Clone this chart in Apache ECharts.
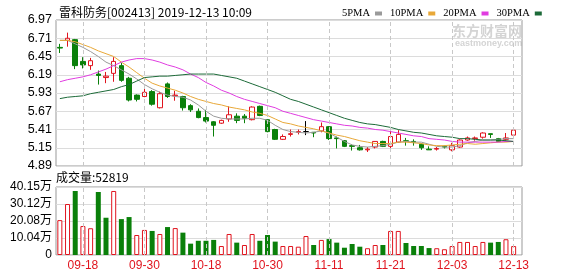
<!DOCTYPE html>
<html><head><meta charset="utf-8">
<script src="https://cdn.jsdelivr.net/npm/echarts@6/dist/echarts.min.js"></script>
<style>html,body{margin:0;padding:0;background:#fff}#c{width:578px;height:276px}</style>
</head><body><div id="c"></div>
<script>
const dates = ['09-16','09-17','09-18','09-19','09-20','09-23','09-24','09-25','09-26','09-27',
'09-30','10-08','10-09','10-10','10-11','10-14','10-15','10-16','10-17','10-18',
'10-21','10-22','10-23','10-24','10-25','10-28','10-29','10-30','10-31','11-01',
'11-04','11-05','11-06','11-07','11-08','11-11','11-12','11-13','11-14','11-15',
'11-18','11-19','11-20','11-21','11-22','11-25','11-26','11-27','11-28','11-29',
'12-02','12-03','12-04','12-05','12-06','12-09','12-10','12-11','12-12','12-13'];
const open = [6.58,6.68,6.69,6.38,6.32,6.20,6.15,6.21,6.32,6.14, 5.90,5.88,5.95,5.72,6.06,5.89,5.88,5.75,5.67,5.58,
5.52,5.50,5.56,5.60,5.60,5.55,5.74,5.55,5.41,5.27, 5.34,5.37,5.38,5.37,5.39,5.45,5.29,5.25,5.18,5.15,
5.12,5.16,5.24,5.17,5.23,5.25,5.24,5.20,5.13,5.13, 5.17,5.12,5.16,5.26,5.28,5.30,5.35,5.28,5.27,5.33];
const close = [6.57,6.71,6.32,6.33,6.39,6.18,6.17,6.38,6.11,5.83, 5.84,5.94,5.77,5.92,5.88,5.90,5.72,5.69,5.58,5.53,
5.47,5.54,5.62,5.54,5.57,5.73,5.61,5.38,5.27,5.31, 5.35,5.38,5.38,5.36,5.45,5.28,5.28,5.17,5.17,5.12,
5.13,5.24,5.17,5.31,5.34,5.24,5.23,5.15,5.12,5.14, 5.16,5.18,5.26,5.29,5.29,5.36,5.34,5.24,5.29,5.40];
const low = [6.50,6.59,6.27,6.28,6.26,6.05,6.07,6.09,6.09,5.81, 5.81,5.87,5.75,5.71,5.86,5.82,5.68,5.66,5.57,5.51,
5.31,5.49,5.52,5.50,5.50,5.54,5.60,5.37,5.26,5.26, 5.31,5.34,5.33,5.30,5.37,5.26,5.14,5.16,5.11,5.11,
5.09,5.14,5.16,5.11,5.22,5.18,5.18,5.12,5.12,5.11, 5.14,5.10,5.15,5.25,5.25,5.28,5.29,5.23,5.25,5.32];
const high = [6.63,6.79,6.70,6.44,6.43,6.25,6.23,6.44,6.36,6.16, 5.91,6.03,5.97,5.95,6.08,5.96,5.89,5.77,5.71,5.69,
5.53,5.55,5.74,5.64,5.63,5.74,5.75,5.56,5.42,5.34, 5.41,5.41,5.53,5.37,5.51,5.46,5.31,5.26,5.20,5.19,
5.16,5.24,5.25,5.41,5.40,5.29,5.27,5.21,5.17,5.16, 5.18,5.22,5.27,5.31,5.31,5.37,5.35,5.29,5.36,5.41];
const ma5 = [6.68,6.68,6.63,6.58,6.52,6.45,6.37,6.32,6.26,6.20, 6.13,6.05,5.99,5.94,5.90,5.88,5.87,5.83,5.76,5.67,
5.60,5.57,5.56,5.56,5.56,5.57,5.57,5.54,5.47,5.41, 5.38,5.37,5.36,5.37,5.39,5.36,5.30,5.24,5.19,5.17,
5.16,5.17,5.18,5.20,5.23,5.24,5.23,5.23,5.20,5.17, 5.16,5.16,5.18,5.22,5.24,5.26,5.26,5.27,5.28,5.28];
const ma10 = [6.68,6.68,6.66,6.62,6.58,6.53,6.49,6.45,6.37,6.30, 6.22,6.14,6.07,6.03,6.00,5.97,5.93,5.88,5.84,5.81,
5.78,5.76,5.73,5.71,5.69,5.66,5.64,5.61,5.56,5.51, 5.49,5.46,5.44,5.42,5.39,5.36,5.33,5.31,5.28,5.25,
5.23,5.21,5.21,5.21,5.23,5.23,5.22,5.21,5.19,5.18, 5.18,5.19,5.20,5.21,5.20,5.21,5.22,5.23,5.23,5.24];
const ma20 = [6.09,6.12,6.14,6.16,6.19,6.23,6.27,6.32,6.37,6.40, 6.42,6.42,6.40,6.37,6.33,6.30,6.26,6.20,6.15,6.08,
6.03,5.97,5.93,5.88,5.84,5.81,5.78,5.75,5.72,5.67, 5.64,5.61,5.58,5.55,5.53,5.51,5.49,5.47,5.46,5.44,
5.43,5.41,5.40,5.38,5.36,5.34,5.32,5.31,5.28,5.27, 5.26,5.24,5.23,5.23,5.23,5.23,5.23,5.23,5.24,5.24];
const ma30 = [5.85,5.87,5.88,5.89,5.92,5.94,5.96,5.98,6.02,6.05, 6.10,6.15,6.16,6.17,6.17,6.18,6.19,6.20,6.20,6.20,
6.20,6.18,6.16,6.14,6.10,6.06,6.02,5.98,5.94,5.89, 5.84,5.81,5.77,5.73,5.69,5.65,5.61,5.57,5.54,5.51,
5.49,5.48,5.46,5.44,5.41,5.39,5.37,5.36,5.34,5.32, 5.31,5.30,5.28,5.28,5.27,5.26,5.26,5.26,5.25,5.24];
const volume = [206000,301000,378000,171000,158000,372000,220000,378000,212000,224000,
118000,148000,142000,124000,165000,159000,132000,67000,84000,84000,
89000,53000,124000,73000,59000,124000,84000,118000,79000,53000,
53000,49000,112000,59000,89000,94000,73000,43000,65000,49000,
40000,59000,59000,142000,142000,71000,53000,53000,41000,40000,
34000,53000,77000,77000,53000,77000,73000,77000,93000,52819];
const volUp = [1,1,0,1,1,0,0,1,0,0, 1,1,0,1,0,1,0,0,0,0, 0,1,1,0,1,1,0,0,0,1,
1,1,1,0,1,0,0,0,0,0, 1,1,0,1,1,0,0,0,0,1, 1,1,1,1,1,1,0,0,1,1];
const priceTicks = ['4.89','5.15','5.41','5.67','5.93','6.19','6.45','6.71','6.97'];
const volTicks = ['0','10.04万','20.08万','30.12万','40.15万'];
const volMax = 401500;
const tickIdx = [3,11,19,27,35,43,51,59];
const tickLabels = ['09-18','09-30','10-18','10-30','11-11','11-21','12-03','12-13'];
const title = '雷科防务[002413] 2019-12-13 10:09';
const volTitle = '成交量:52819';
const maNames = ['5PMA','10PMA','20PMA','30PMA'];

const RED = '#e0141e', GREEN = '#0a800a';
const maColors = ['#9a9a9a','#e8a838','#e03ce0','#1c6a38'];
const FONT = 'Liberation Sans, Noto Sans CJK SC, sans-serif';
const chart = echarts.init(document.getElementById('c'), null, {renderer:'canvas'});
const L = 56, R = 522, DW = 461.5;
const mainTop = 20, mainH = 146, volTop = 187, volH = 68;
const maArr = [ma5, ma10, ma20, ma30];
const option = {
  animation: false,
  textStyle: {fontFamily: FONT},
  title: {text: title, left: 54, top: 1, textStyle: {fontSize: 12, fontWeight: 'normal', color: '#000', fontFamily: 'Noto Sans CJK SC'}},
  legend: {data: maNames, left: 337, top: 3, align: 'right', icon: 'rect', itemWidth: 7, itemHeight: 4, itemGap: 8,
    textStyle: {fontSize: 10.5, color: '#000', fontFamily: 'Liberation Serif'}},
  graphic: [
    {type: 'text', left: 56, top: 171, style: {text: volTitle, fontSize: 12, fill: '#000', fontFamily: 'Noto Sans CJK SC'}},
    {type: 'text', left: 452, top: 24, z: -1, style: {text: '东方财富网', fontSize: 14, fontWeight: 'bold', fill: '#d4d4d4', fontFamily: 'Noto Sans CJK SC'}},
    {type: 'text', left: 455, top: 39, z: -1, style: {text: 'eastmoney.com', fontSize: 9, fontWeight: 'bold', fill: '#d4d4d4', fontFamily: 'Liberation Sans'}}
  ],
  grid: [
    {left: L, width: R - L, top: mainTop, height: mainH, show: true, borderColor: '#999', borderWidth: 1},
    {left: L, width: R - L, top: volTop, height: volH, show: true, borderColor: '#999', borderWidth: 1},
    {left: L, width: DW, top: mainTop, height: mainH},
    {left: L, width: DW, top: volTop, height: volH}
  ],
  xAxis: [
    {gridIndex: 0, type: 'value', min: 0, max: 1, show: false},
    {gridIndex: 1, type: 'value', min: 0, max: 1, show: false},
    {gridIndex: 2, type: 'category', data: dates, boundaryGap: true, show: false},
    {gridIndex: 3, type: 'category', data: dates, boundaryGap: true,
      axisLine: {show: false}, axisTick: {show: false}, splitLine: {show: false},
      axisLabel: {interval: (i) => tickIdx.indexOf(i) >= 0, formatter: (v, i) => tickLabels[tickIdx.indexOf(i)] || '',
        color: RED, fontSize: 12, margin: 5, fontFamily: 'Liberation Sans'}}
  ],
  yAxis: [
    {gridIndex: 0, type: 'value', min: 0, max: priceTicks.length - 1, interval: 1,
      axisLine: {show: false}, axisTick: {show: false},
      axisLabel: {formatter: (v) => priceTicks[v], fontSize: 12.5, color: '#000', margin: 4},
      splitLine: {lineStyle: {color: '#dcdcdc', width: 1}}},
    {gridIndex: 1, type: 'value', min: 0, max: volTicks.length - 1, interval: 1,
      axisLine: {show: false}, axisTick: {show: false},
      axisLabel: {formatter: (v) => volTicks[v], fontSize: 12, color: '#000', margin: 4},
      splitLine: {lineStyle: {color: '#dcdcdc', width: 1}}},
    {gridIndex: 2, type: 'value', min: parseFloat(priceTicks[0]), max: parseFloat(priceTicks[priceTicks.length - 1]), show: false, splitLine: {show: false}},
    {gridIndex: 3, type: 'value', min: 0, max: volMax, show: false, splitLine: {show: false}}
  ],
  series: [
    {type: 'line', xAxisIndex: 2, yAxisIndex: 2, data: [], z: 1, silent: true,
      markLine: {silent: true, symbol: ['none','none'], label: {show: false},
        lineStyle: {color: '#c8c8c8', type: [4, 3], width: 1}, data: tickIdx.map(i => ({xAxis: dates[i]}))}},
    {type: 'line', xAxisIndex: 3, yAxisIndex: 3, data: [], z: 1, silent: true,
      markLine: {silent: true, symbol: ['none','none'], label: {show: false},
        lineStyle: {color: '#c8c8c8', type: [4, 3], width: 1}, data: tickIdx.map(i => ({xAxis: dates[i]}))}},
    {type: 'candlestick', xAxisIndex: 2, yAxisIndex: 2, barWidth: 5, z: 3,
      data: dates.map((d, i) => [open[i], close[i], low[i], high[i]]),
      itemStyle: {color: '#fff', color0: GREEN, borderColor: RED, borderColor0: GREEN, borderColorDoji: '#000', borderWidth: 1}},
    ...maNames.map((n, k) => ({name: n, type: 'line', xAxisIndex: 2, yAxisIndex: 2, data: maArr[k], symbol: 'none', z: 4,
      itemStyle: {color: maColors[k]}, lineStyle: {color: maColors[k], width: 1}})),
    {type: 'bar', xAxisIndex: 3, yAxisIndex: 3, barWidth: 5, z: 3,
      data: volume.map((v, i) => ({value: v, itemStyle: volUp[i] ? {color: '#fff', borderColor: RED, borderWidth: 1} : {color: GREEN}}))}
  ]
};
chart.setOption(option);
</script></body></html>
